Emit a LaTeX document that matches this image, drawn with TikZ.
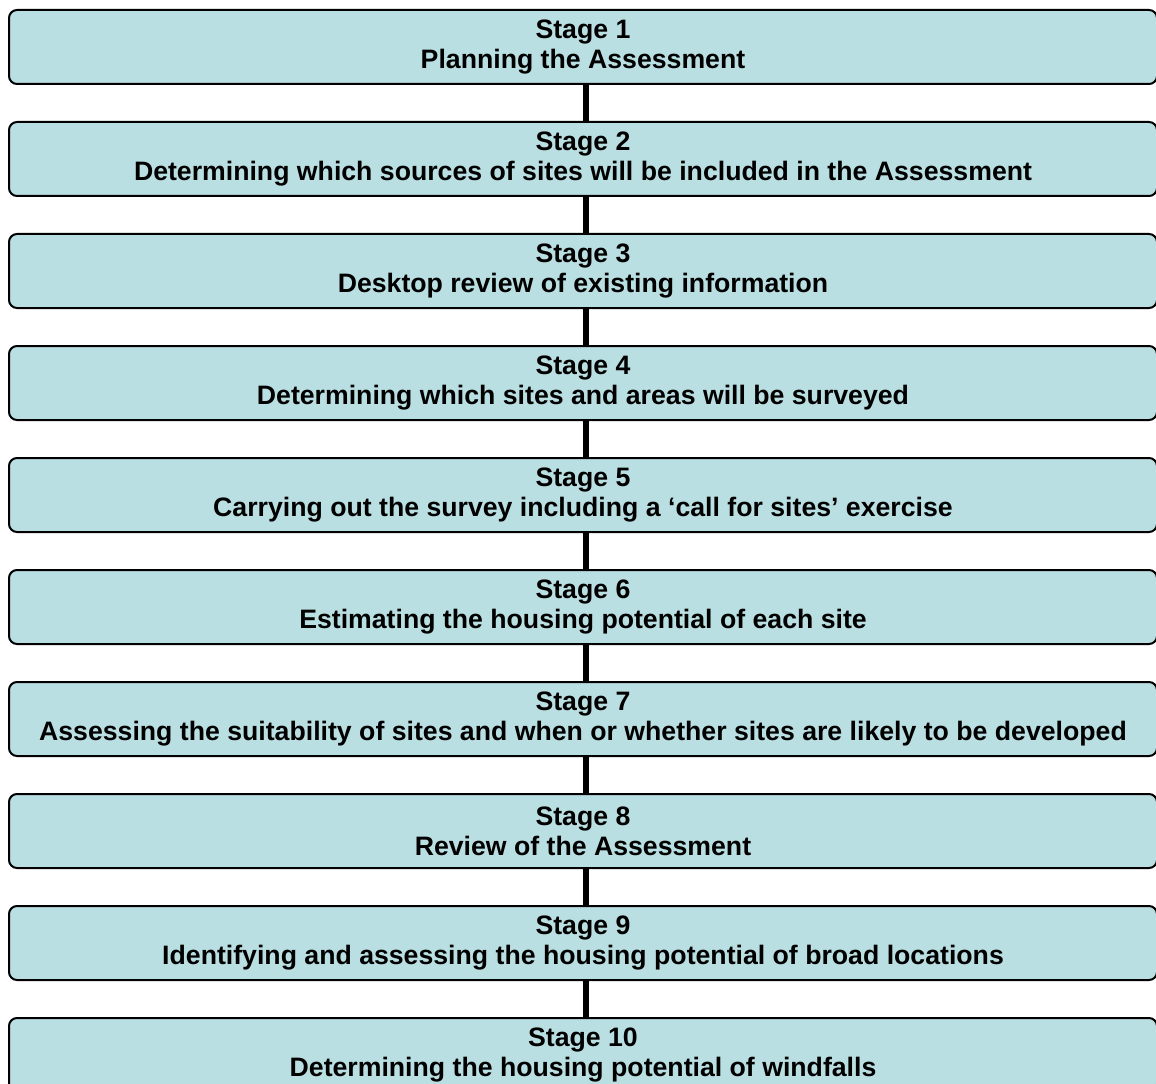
\documentclass[tikz,border=0pt]{standalone}
\usepackage{fontspec}
\setmainfont{Liberation Sans}
\definecolor{boxfill}{RGB}{186,223,226}
\begin{document}
\begin{tikzpicture}[x=0.75pt,y=-0.75pt,
  stagebox/.style={draw=black,line width=1.5pt,fill=boxfill,rounded corners=6pt,minimum width=1148*0.75pt,minimum height=74*0.75pt,inner sep=0pt,align=center,font=\bfseries\fontsize{20pt}{22.5pt}\selectfont},
  link/.style={line width=3.8pt,black}]
\useasboundingbox (0,0) rectangle (1156,1084);
\begin{scope}
\clip (0,0) rectangle (1156,1084);
\foreach \i/\t in {1/Planning the Assessment,
  2/Determining which sources of sites will be included in the Assessment,
  3/Desktop review of existing information,
  4/Determining which sites and areas will be surveyed,
  5/Carrying out the survey including a ‘call for sites’ exercise,
  6/Estimating the housing potential of each site,
  7/Assessing the suitability of sites and when or whether sites are likely to be developed,
  8/Review of the Assessment,
  9/Identifying and assessing the housing potential of broad locations,
  10/Determining the housing potential of windfalls}{
  \node[stagebox] (s\i) at (583,{47+112*(\i-1)}) {Stage \i\\\t};
}
\end{scope}
\foreach \i [evaluate=\i as \j using int(\i+1)] in {1,...,9}{
  \draw[link] (586,0 |- s\i.south) -- (586,0 |- s\j.north);
}
\end{tikzpicture}
\end{document}
